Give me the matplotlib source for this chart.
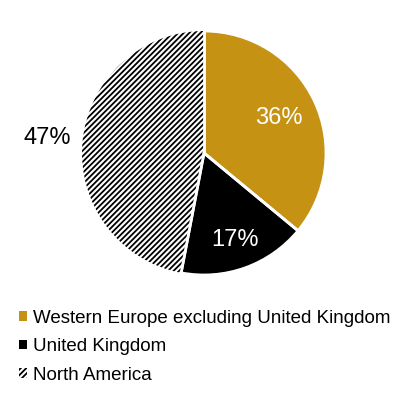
import matplotlib
matplotlib.use("Agg")
import matplotlib.pyplot as plt
import numpy as np

plt.rcParams['font.family'] = ['Liberation Sans', 'DejaVu Sans']
plt.rcParams['hatch.linewidth'] = 1.3

categories = ["Western Europe excluding United Kingdom", "United Kingdom", "North America"]
values = [36, 17, 47]
labels = ["36%", "17%", "47%"]
colors = ["#C59214", "#000000", "#FFFFFF"]
hatches = [None, None, "//////"]

fig = plt.figure(figsize=(4.0, 3.93), dpi=100)
ax = fig.add_axes([0, 0, 1, 1])

cx, cy, r = 204, 240, 122
wedges, _ = ax.pie(values, colors=colors, startangle=90, counterclock=False,
                   center=(cx, cy), radius=r, frame=True,
                   wedgeprops=dict(edgecolor='white', linewidth=2))
for w, h in zip(wedges, hatches):
    if h:
        w.set_hatch(h)
        w.set_edgecolor('black')
        w.set_linewidth(0)
ax.set_xlim(0, 400)
ax.set_ylim(0, 393)
ax.axis('off')

dists = [0.68, 0.76, 1.29]
tcolors = ['white', 'white', 'black']
for w, lab, d, tc in zip(wedges, labels, dists, tcolors):
    ang = np.deg2rad((w.theta1 + w.theta2) / 2)
    ax.text(cx + d * r * np.cos(ang), cy + d * r * np.sin(ang), lab,
            ha='center', va='center', fontsize=17, color=tc)

# white separators over hatched edge
for w in wedges:
    a = np.deg2rad(w.theta1)
    ax.plot([cx, cx + r * np.cos(a)], [cy, cy + r * np.sin(a)], color='white', lw=2)

leg = fig.legend(wedges, categories, loc='upper left', bbox_to_anchor=(0.025, 0.236),
                 frameon=False, fontsize=13.5, handlelength=0.4, handleheight=0.4,
                 handletextpad=0.35, labelspacing=0.62, borderpad=0)
for h in leg.legend_handles:
    h.set_linewidth(0)

fig.savefig("out.png", dpi=100)
